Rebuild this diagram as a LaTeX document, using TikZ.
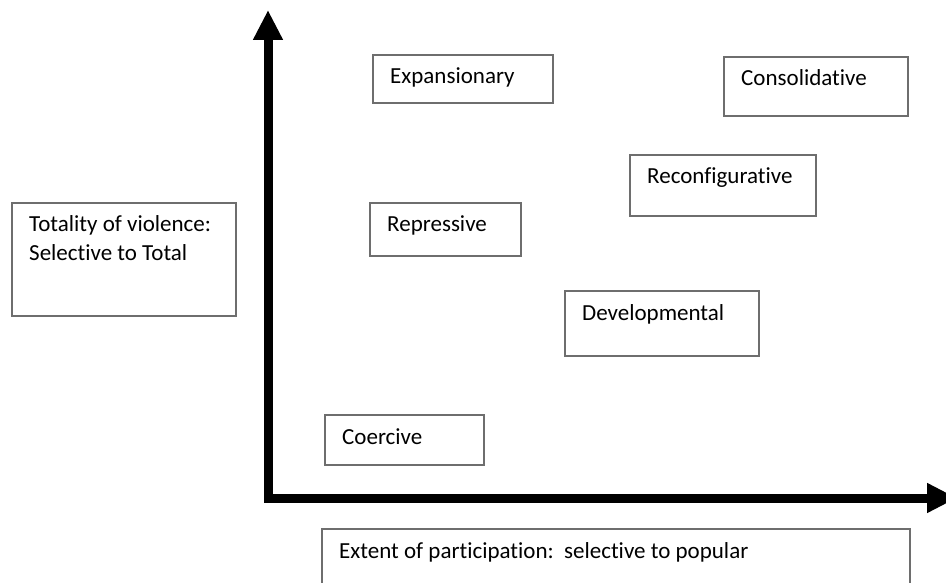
\documentclass[tikz,border=0pt]{standalone}
\usepackage{fontspec}
\setmainfont{Carlito}[Ligatures=NoCommon]
\usetikzlibrary{arrows.meta}

\definecolor{boxgray}{HTML}{6E6E6E}

\tikzset{
  box/.style={draw=boxgray, line width=2pt, anchor=north west,
              inner sep=0pt, outer sep=0pt, fill=white},
  lbl/.style={anchor=base west, inner sep=0pt, align=left,
              font=\fontsize{23}{28.5}\selectfont,
              xshift=17pt, yshift=-29pt},
  axis/.style={line width=9pt, line join=miter, black,
               {Triangle[width=28pt,length=30pt]}-{Triangle[width=28pt,length=30pt]}},
}

\begin{document}
\begin{tikzpicture}[x=1pt, y=-1pt]
  \useasboundingbox (0,0) rectangle (946,583);
  \clip (0,0) rectangle (946,583);

  % axes: participation (horizontal) and totality of violence (vertical)
  \coordinate (origin) at (268,498);
  \coordinate (ytip) at (268,10);
  \coordinate (xtip) at (957,498);
  \draw[axis] (ytip) -- (origin) -- (xtip);

  % axis captions (two-line text sits one line lower, base is its last line)
  \node[box, minimum width=224pt, minimum height=113pt,
        label={[lbl, yshift=-28.5pt]north west:Totality of violence:\\Selective to Total}]
        (ylabel) at (12,203) {};
  \node[box, minimum width=588pt, minimum height=80pt,
        label={[lbl]north west:Extent of participation:\ \ selective to popular}]
        (xlabel) at (322,529) {};

  % regime types
  \node[box, minimum width=180pt, minimum height=48pt,
        label={[lbl]north west:Expansionary}] (expansionary) at (373,55) {};
  \node[box, minimum width=184pt, minimum height=59pt,
        label={[lbl]north west:Consolidative}] (consolidative) at (724,57) {};
  \node[box, minimum width=186pt, minimum height=61pt,
        label={[lbl]north west:Reconfigurative}] (reconfigurative) at (630,155) {};
  \node[box, minimum width=151pt, minimum height=53pt,
        label={[lbl]north west:Repressive}] (repressive) at (370,203) {};
  \node[box, minimum width=194pt, minimum height=65pt,
        label={[lbl]north west:Developmental}] (developmental) at (565,291) {};
  \node[box, minimum width=159pt, minimum height=50pt,
        label={[lbl]north west:Coercive}] (coercive) at (325,415) {};
\end{tikzpicture}
\end{document}
